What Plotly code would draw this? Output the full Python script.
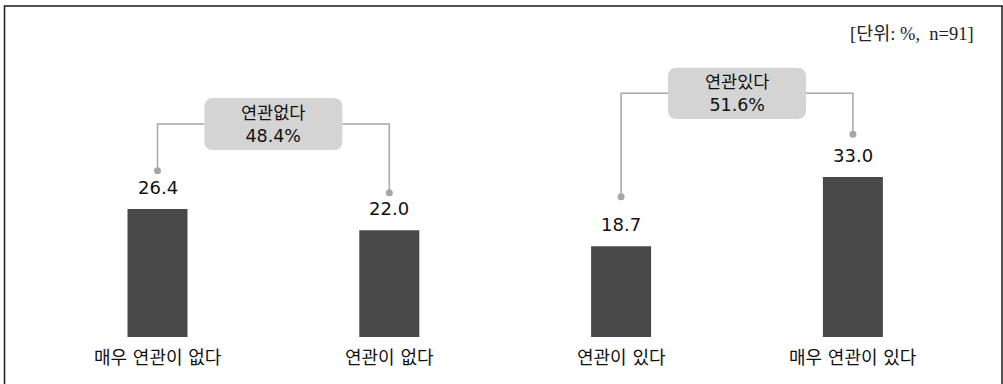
import plotly.graph_objects as go

# ---- data ----
categories = ["매우 연관이 없다", "연관이 없다", "연관이 있다", "매우 연관이 있다"]
values = [26.4, 22.0, 18.7, 33.0]
group_labels = ["연관없다", "연관있다"]
group_totals = [48.4, 51.6]
unit_text = "[단위: %,\u00a0 n=91]"

# ---- layout geometry (pixels) ----
W, H = 1003, 384
ML, MR, MT, MB = 10, 10, 20, 47
PX_X = 231.8          # pixels per category step
PX_Y = 4.85           # pixels per percent
BASE_PY = H - MB      # pixel row of y=0
plot_w = W - ML - MR
plot_h = H - MT - MB
x0 = -(157.5 - ML) / PX_X
xr = [x0, x0 + plot_w / PX_X]
yr = [0, plot_h / PX_Y]


def px_x(px):
    return x0 + (px - ML) / PX_X


def px_y(py):
    return (BASE_PY - py) / PX_Y


BAR_C = "#484848"
LINE_C = "#a6a6a6"
BOX_C = "#d4d4d4"
NUM_FONT = "DejaVu Sans, Noto Sans CJK KR, sans-serif"

xs = list(range(len(categories)))

fig = go.Figure()
fig.add_trace(go.Bar(
    x=xs, y=values, width=60 / PX_X,
    marker=dict(color=BAR_C, line=dict(width=0)),
    hoverinfo="skip", showlegend=False,
))

annotations = []
for i, (c, v) in enumerate(zip(categories, values)):
    annotations.append(dict(x=i, y=v, text=f"{v:.1f}", showarrow=False,
                            yanchor="middle", yshift=21.5,
                            font=dict(family=NUM_FONT, size=18, color="#111111")))
    annotations.append(dict(x=i, y=0, text=c, showarrow=False,
                            yanchor="middle", yshift=-20,
                            font=dict(family=NUM_FONT, size=18, color="#111111")))

# group brackets: (left bar index, right bar index, box top px, box bottom px, dot px rows)
groups = [
    (0, 1, 98, 150, 170.7, 192.7),
    (2, 3, 67.7, 119, 196.7, 134.3),
]
box_w = 138
radius = 9
shapes = []
for g, (a, b, top_py, bot_py, dot_a_py, dot_b_py) in enumerate(groups):
    cx = (a + b) / 2
    half = box_w / 2 / PX_X
    bx0, bx1 = cx - half, cx + half
    by1, by0 = px_y(top_py), px_y(bot_py)
    rx, ry = radius / PX_X, radius / PX_Y
    path = (f"M {bx0+rx},{by1} L {bx1-rx},{by1} Q {bx1},{by1} {bx1},{by1-ry} "
            f"L {bx1},{by0+ry} Q {bx1},{by0} {bx1-rx},{by0} "
            f"L {bx0+rx},{by0} Q {bx0},{by0} {bx0},{by0+ry} "
            f"L {bx0},{by1-ry} Q {bx0},{by1} {bx0+rx},{by1} Z")
    shapes.append(dict(type="path", path=path, fillcolor=BOX_C,
                       line=dict(width=0), layer="above"))
    ly = (by0 + by1) / 2
    da, db = px_y(dot_a_py), px_y(dot_b_py)
    fig.add_trace(go.Scatter(x=[a, a, bx0], y=[da, ly, ly], mode="lines",
                             line=dict(color=LINE_C, width=1.5),
                             hoverinfo="skip", showlegend=False))
    fig.add_trace(go.Scatter(x=[bx1, b, b], y=[ly, ly, db], mode="lines",
                             line=dict(color=LINE_C, width=1.5),
                             hoverinfo="skip", showlegend=False))
    fig.add_trace(go.Scatter(x=[a, b], y=[da, db], mode="markers",
                             marker=dict(color=LINE_C, size=7),
                             hoverinfo="skip", showlegend=False))
    annotations.append(dict(x=cx, y=ly, text=f"{group_labels[g]}<br>{group_totals[g]:.1f}%",
                            showarrow=False, yanchor="middle", xanchor="center",
                            font=dict(family=NUM_FONT, size=17.5, color="#111111")))

# unit label
annotations.append(dict(x=px_x(976), y=px_y(33.5), text=unit_text, showarrow=False,
                        xanchor="right", yanchor="middle",
                        font=dict(family="Liberation Serif, Noto Sans CJK KR, serif",
                                  size=18.5, color="#222222")))

# frame (left, top, right edges)
def paper_x(px):
    return (px - ML) / plot_w


def paper_y(py):
    return (BASE_PY - py) / plot_h


shapes.append(dict(type="rect", xref="paper", yref="paper",
                   x0=paper_x(4.5), x1=paper_x(1002), y0=paper_y(395), y1=paper_y(6),
                   line=dict(color="#1a1a1a", width=1.5), fillcolor="rgba(0,0,0,0)",
                   layer="above"))

fig.update_layout(
    width=W, height=H,
    margin=dict(l=ML, r=MR, t=MT, b=MB),
    paper_bgcolor="white", plot_bgcolor="white",
    xaxis=dict(range=xr, visible=False, fixedrange=True),
    yaxis=dict(range=yr, visible=False, fixedrange=True),
    shapes=shapes, annotations=annotations,
    showlegend=False,
)

fig.write_html("out.html")
